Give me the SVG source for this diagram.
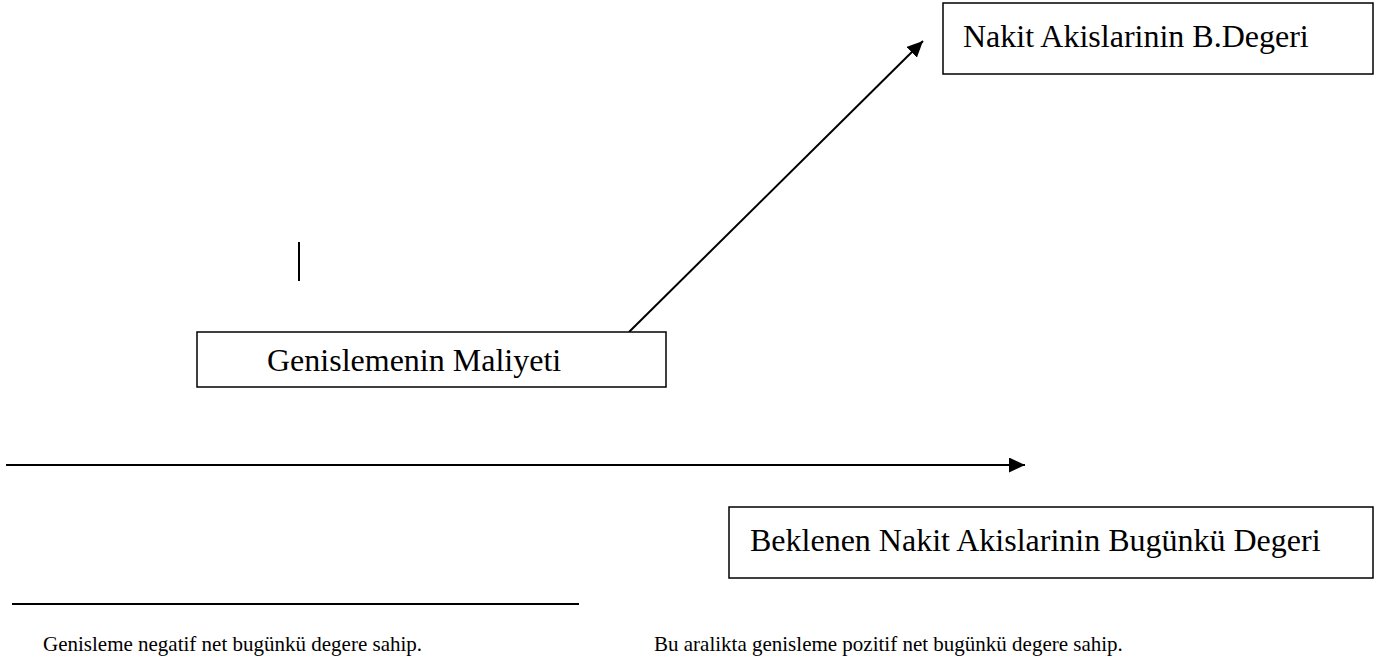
<svg xmlns="http://www.w3.org/2000/svg" width="1385" height="662" viewBox="0 0 1385 662">
<style>
.box{fill:#fff;stroke:#000;stroke-width:1.5}
.lbl{font-family:"Liberation Serif","Times New Roman",serif;font-size:32px;fill:#000}
.note{font-family:"Liberation Serif","Times New Roman",serif;font-size:21px;fill:#000}
.ln{stroke:#000;stroke-width:2;fill:none}
</style>
<defs>
<marker id="arr" markerUnits="userSpaceOnUse" markerWidth="16" markerHeight="15" refX="16" refY="7.5" orient="auto">
<path d="M0,0 L16,7.5 L0,15 z" fill="#000"/>
</marker>
</defs>
<rect width="1385" height="662" fill="#fff"/>
<g id="connectors">
<line class="ln" x1="629" y1="332" x2="923" y2="41" marker-end="url(#arr)"/>
<line class="ln" x1="6" y1="465" x2="1025" y2="465" marker-end="url(#arr)"/>
<line class="ln" x1="12" y1="604" x2="579" y2="604"/>
<line class="ln" x1="299" y1="242" x2="299" y2="281" stroke-width="1.5"/>
</g>
<g id="node-nakit">
<rect class="box" x="943" y="3" width="430" height="71"/>
<text class="lbl" x="963" y="47">Nakit Akislarinin B.Degeri</text>
</g>
<g id="node-maliyet">
<rect class="box" x="197" y="332" width="469" height="55"/>
<text class="lbl" x="267" y="371">Genislemenin Maliyeti</text>
</g>
<g id="node-beklenen">
<rect class="box" x="729" y="507" width="644" height="71"/>
<text class="lbl" x="750" y="551">Beklenen Nakit Akislarinin Bugünkü Degeri</text>
</g>
<g id="notes">
<text class="note" x="43" y="651">Genisleme negatif net bugünkü degere sahip.</text>
<text class="note" x="654" y="651">Bu aralikta genisleme pozitif net bugünkü degere sahip.</text>
</g>
</svg>
